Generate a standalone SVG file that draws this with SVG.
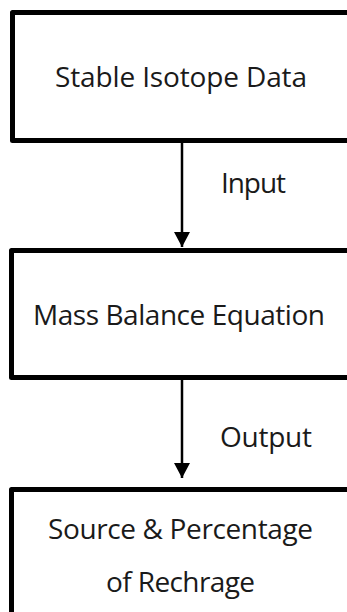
<svg xmlns="http://www.w3.org/2000/svg" width="347" height="612" viewBox="0 0 347 612">
<defs>
<style>
.box{fill:#fff;stroke:#000;stroke-width:5;stroke-linejoin:round}
.t{font-family:"Open Sans","Noto Sans",sans-serif;font-size:28px;fill:#1a1a1a}
.c{stroke:#000;stroke-width:2.5;fill:none}
</style>
<marker id="ah" markerUnits="userSpaceOnUse" markerWidth="16" markerHeight="16" refX="15" refY="8" orient="auto">
<path d="M0,0 L15,8 L0,16 Z" fill="#000"/>
</marker>
</defs>
<rect width="347" height="612" fill="#fff"/>
<g id="node1">
<rect class="box" x="12.5" y="12.5" width="350" height="128"/>
<text class="t" x="55" y="87" textLength="252">Stable Isotope Data</text>
</g>
<g id="node2">
<rect class="box" x="11.5" y="250.5" width="350" height="127"/>
<text class="t" x="33" y="325" textLength="292">Mass Balance Equation</text>
</g>
<g id="node3">
<rect class="box" x="11.5" y="489.5" width="350" height="140"/>
<text class="t" x="48" y="539" textLength="265">Source &amp; Percentage</text>
<text class="t" x="106" y="592" textLength="149">of Rechrage</text>
</g>
<g id="connectors">
<line class="c" x1="182" y1="143" x2="182" y2="247" marker-end="url(#ah)"/>
<line class="c" x1="182" y1="380" x2="182" y2="478" marker-end="url(#ah)"/>
<text class="t" x="221" y="193" textLength="65">Input</text>
<text class="t" x="220" y="447" textLength="92">Output</text>
</g>
</svg>
